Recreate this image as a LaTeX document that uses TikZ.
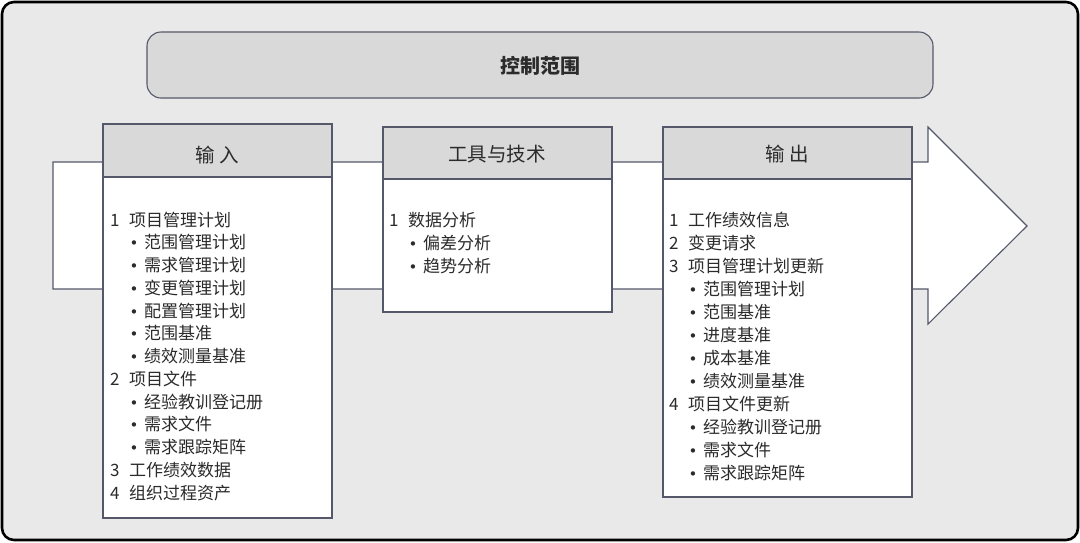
\documentclass[tikz,border=0pt]{standalone}
\usepackage{fontspec}
\setmainfont{Noto Sans CJK SC}
\newfontfamily\bulfont{DejaVu Sans}
\definecolor{bg}{HTML}{E9E9E9}
\definecolor{hdr}{HTML}{D9D9D9}
\definecolor{edge}{HTML}{55586A}
\definecolor{txt}{HTML}{2B2B2B}
\tikzset{
  item/.style={anchor=base west, inner sep=0pt, font=\fontsize{17}{20}\selectfont, text=txt},
  bul/.style={anchor=base, inner sep=0pt, font=\bulfont\fontsize{15}{20}\selectfont, text=txt},
  hdrtext/.style={inner sep=0pt, font=\fontsize{19.5}{22}\selectfont, text=txt},
  panel/.style={draw=edge, line width=1.1pt, fill=white},
  panelhead/.style={draw=edge, line width=1.1pt, fill=hdr},
}
\newcommand{\NumLine}[5]{\node[item] (#1n) at (#2,#3) {#4}; \node[item] (#1) at (#2+19,#3) {#5};}
\newcommand{\BulLine}[4]{\node[bul] (#1b) at (#2+24,#3) {•}; \node[item] (#1) at (#2+34,#3) {#4};}
\begin{document}
\begin{tikzpicture}[x=1pt,y=-1pt]
\useasboundingbox (0,0) rectangle (1080,542);
% outer frame
\draw[line width=2.6pt, fill=bg, rounded corners=12pt] (2,2) rectangle (1078,540);
% title
\draw[draw=edge, line width=1.1pt, fill=hdr, rounded corners=14pt] (147,32) rectangle (933,98);
\node[inner sep=0pt, font=\fontsize{20}{24}\selectfont\bfseries, text=txt] (title) at (540,66) {控制范围};
% big arrow
\draw[draw=edge, line width=1.1pt, fill=white] (53,162) -- (928,162) -- (928,127) -- (1027,226) -- (928,324) -- (928,289) -- (53,289) -- cycle;
% input panel
\draw[panel] (103,177) rectangle (332,518);
\draw[panelhead] (103,124) rectangle (332,177);
\node[hdrtext] (hin) at (217,155) {输 入};
% tools panel
\draw[panel] (383,179) rectangle (612,312);
\draw[panelhead] (383,127) rectangle (612,179);
\node[hdrtext] (htool) at (497,154) {工具与技术};
% output panel
\draw[panel] (663,179) rectangle (912,497);
\draw[panelhead] (663,127) rectangle (912,179);
\node[hdrtext] (hout) at (787,154) {输 出};
% input items
\def\ia{110}
\NumLine{a1}{\ia}{226}{1}{项目管理计划}
\BulLine{a2}{\ia}{248.75}{范围管理计划}
\BulLine{a3}{\ia}{271.5}{需求管理计划}
\BulLine{a4}{\ia}{294.25}{变更管理计划}
\BulLine{a5}{\ia}{317}{配置管理计划}
\BulLine{a6}{\ia}{339.75}{范围基准}
\BulLine{a7}{\ia}{362.5}{绩效测量基准}
\NumLine{a8}{\ia}{385.25}{2}{项目文件}
\BulLine{a9}{\ia}{408}{经验教训登记册}
\BulLine{a10}{\ia}{430.75}{需求文件}
\BulLine{a11}{\ia}{453.5}{需求跟踪矩阵}
\NumLine{a12}{\ia}{476.25}{3}{工作绩效数据}
\NumLine{a13}{\ia}{499}{4}{组织过程资产}
% tools items
\def\ib{389}
\NumLine{b1}{\ib}{226.5}{1}{数据分析}
\BulLine{b2}{\ib}{249.5}{偏差分析}
\BulLine{b3}{\ib}{272.5}{趋势分析}
% output items
\def\ic{669}
\NumLine{c1}{\ic}{226}{1}{工作绩效信息}
\NumLine{c2}{\ic}{249.05}{2}{变更请求}
\NumLine{c3}{\ic}{272.1}{3}{项目管理计划更新}
\BulLine{c4}{\ic}{295.15}{范围管理计划}
\BulLine{c5}{\ic}{318.2}{范围基准}
\BulLine{c6}{\ic}{341.25}{进度基准}
\BulLine{c7}{\ic}{364.3}{成本基准}
\BulLine{c8}{\ic}{387.35}{绩效测量基准}
\NumLine{c9}{\ic}{410.4}{4}{项目文件更新}
\BulLine{c10}{\ic}{433.45}{经验教训登记册}
\BulLine{c11}{\ic}{456.5}{需求文件}
\BulLine{c12}{\ic}{479.55}{需求跟踪矩阵}
\end{tikzpicture}
\end{document}
